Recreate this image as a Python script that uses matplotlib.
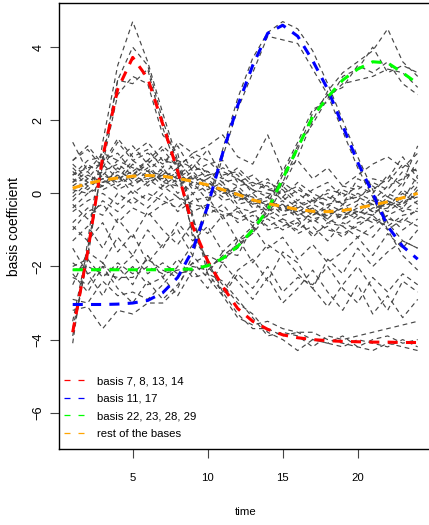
import numpy as np
import matplotlib
matplotlib.use("Agg")
import matplotlib.pyplot as plt
from matplotlib.lines import Line2D

#-------data------
time = list(range(1, 25))

red_mean = [-3.8, -1.6, 1.0, 2.85, 3.72, 3.15, 1.9, 0.6, -0.9, -1.85, -2.55, -3.15,
            -3.5, -3.72, -3.87, -3.95, -4.0, -4.03, -4.05, -4.06, -4.07, -4.07, -4.08, -4.08]
blue_mean = [-3.04, -3.04, -3.04, -3.03, -3.0, -2.93, -2.72, -2.3, -1.55, -0.35, 1.1, 2.4,
             3.5, 4.38, 4.6, 4.3, 3.63, 2.85, 1.85, 0.85, 0.0, -0.9, -1.45, -1.8]
green_mean = [-2.09, -2.09, -2.09, -2.09, -2.09, -2.09, -2.09, -2.08, -2.07, -1.98, -1.78, -1.45,
              -1.0, -0.45, 0.4, 1.25, 2.1, 2.63, 3.1, 3.4, 3.6, 3.57, 3.3, 3.0]
orange_mean = [0.14, 0.27, 0.36, 0.42, 0.47, 0.49, 0.47, 0.41, 0.33, 0.23, 0.10, -0.03,
               -0.18, -0.28, -0.36, -0.44, -0.49, -0.50, -0.47, -0.40, -0.32, -0.23, -0.12, 0.00]

red_lines = [
    [-4.1, -1.3, 1.4, 3.5, 4.7, 3.6, 2.2, 0.9, -0.7, -2.0, -2.5, -3.0, -3.3, -3.8, -4.0, -4.3, -4.0, -4.1, -3.9, -4.2, -4.0, -3.9, -4.1, -4.0],
    [-3.7, -1.8, 1.0, 3.1, 4.0, 3.5, 2.0, 0.8, -1.2, -1.8, -2.8, -3.4, -3.6, -3.5, -3.7, -3.8, -4.0, -4.1, -4.2, -4.0, -4.1, -4.2, -4.0, -4.2],
    [-3.5, -1.5, 0.8, 2.7, 3.2, 3.0, 1.6, 1.1, -0.6, -2.2, -2.4, -2.9, -3.4, -3.9, -3.8, -3.9, -4.2, -3.9, -4.0, -3.9, -3.8, -3.7, -3.6, -3.5],
    [-3.9, -1.7, 0.9, 3.1, 3.0, 3.4, 1.8, 0.6, -1.1, -1.8, -2.7, -3.3, -3.7, -3.7, -3.9, -3.8, -3.8, -4.0, -4.1, -4.2, -4.3, -4.1, -4.2, -4.3],
]
blue_lines = [
    [-2.9, -3.0, -2.4, -2.8, -2.7, -2.9, -2.5, -2.0, -1.4, -0.3, 1.2, 2.6, 3.7, 4.4, 4.7, 4.5, 3.9, 3.0, 2.0, 1.0, 0.1, -0.8, -1.3, -1.5],
    [-3.2, -3.1, -3.7, -3.2, -3.3, -3.0, -3.0, -2.6, -1.7, -0.4, 1.0, 2.3, 3.3, 4.3, 4.2, 4.1, 3.4, 2.7, 1.7, 0.7, -0.1, -1.0, -1.7, -2.1],
]
green_lines = [
    [-2.0, -1.8, -2.3, -1.9, -2.2, -1.8, -2.1, -2.3, -1.9, -1.7, -1.9, -1.3, -1.1, -0.6, 0.2, 1.0, 2.0, 2.8, 3.3, 3.6, 3.9, 4.5, 3.6, 3.2],
    [-2.3, -2.5, -1.9, -2.4, -2.0, -2.5, -2.3, -1.8, -2.3, -2.2, -1.6, -1.7, -0.9, -0.3, 0.6, 1.4, 2.3, 2.5, 3.2, 3.4, 4.0, 3.3, 3.5, 3.3],
    [-1.9, -2.2, -2.0, -2.1, -1.7, -2.2, -1.9, -2.2, -2.1, -2.0, -1.8, -1.5, -1.0, -0.5, 0.3, 1.2, 2.2, 2.7, 2.9, 3.5, 3.3, 3.6, 3.0, 2.7],
    [-2.1, -2.0, -2.2, -2.3, -2.3, -2.0, -2.2, -2.1, -2.0, -2.1, -1.7, -1.4, -1.1, -0.4, 0.5, 1.3, 1.9, 2.6, 3.0, 3.1, 3.2, 3.4, 3.3, 2.9],
]
rest_lines = [
    [1.4, 0.6, 1.1, 0.9, 1.3, 0.8, 1.2, 0.7, 1.1, 0.9, 0.5, 0.6, 0.2, 0.4, -0.1, 0.3, 0.0, -0.2, 0.2, 0.1, 0.4, 0.3, 0.8, 0.6],
    [0.9, 1.2, 0.7, 1.4, 0.9, 1.1, 0.8, 1.3, 0.6, 0.8, 0.9, 0.3, 0.5, 0.1, 0.2, -0.2, 0.1, 0.3, -0.1, 0.2, 0.0, 0.5, 0.2, 0.9],
    [0.5, 0.9, 1.0, 0.6, 1.1, 1.4, 0.9, 0.8, 1.0, 0.5, 0.6, 0.4, 0.1, -0.1, 0.3, 0.0, -0.3, 0.1, 0.0, -0.2, 0.3, 0.1, 0.6, 0.3],
    [0.8, 0.4, 0.9, 1.1, 0.6, 0.9, 1.3, 0.9, 0.7, 1.2, 0.4, 0.2, 0.3, 0.2, -0.2, 0.1, -0.1, -0.4, 0.1, -0.1, 0.1, 0.4, 1.0, 0.4],
    [0.3, 0.8, 0.5, 0.9, 0.7, 0.6, 1.0, 0.5, 0.8, 0.4, 0.7, 0.5, 0.0, 0.3, 0.1, -0.3, -0.2, 0.0, -0.3, 0.4, 0.2, -0.1, 0.3, 1.3],
    [0.2, 0.5, 0.3, 0.6, 0.4, 0.7, 0.3, 0.6, 0.2, 0.4, 0.0, 0.1, -0.3, -0.1, -0.5, -0.3, -0.6, -0.4, -0.7, -0.3, -0.5, -0.1, -0.3, 0.2],
    [-0.1, 0.3, 0.6, 0.2, 0.5, 0.3, 0.7, 0.2, 0.5, 0.1, 0.3, -0.2, 0.0, -0.4, -0.2, -0.6, -0.4, -0.7, -0.3, -0.6, -0.2, -0.4, 0.1, -0.2],
    [0.4, 0.1, 0.5, 0.3, 0.8, 0.4, 0.5, 0.3, 0.6, 0.2, -0.1, 0.2, -0.2, -0.3, -0.4, -0.2, -0.5, -0.6, -0.4, -0.5, -0.6, -0.2, -0.4, 0.1],
    [0.0, 0.4, 0.2, 0.7, 0.3, 0.6, 0.2, 0.5, 0.3, 0.5, 0.2, -0.1, -0.3, -0.2, -0.6, -0.5, -0.3, -0.5, -0.6, -0.4, -0.3, -0.5, -0.2, -0.1],
    [0.6, 0.2, 0.4, 0.5, 0.2, 0.5, 0.4, 0.7, 0.1, 0.3, 0.1, 0.0, -0.1, -0.5, -0.3, -0.7, -0.6, -0.3, -0.5, -0.7, -0.4, -0.3, 0.0, -0.3],
    [0.1, 0.0, 0.3, 0.4, 0.6, 0.2, 0.6, 0.4, 0.4, 0.0, 0.2, -0.3, -0.2, -0.1, -0.5, -0.4, -0.7, -0.6, -0.4, -0.2, -0.5, -0.4, -0.1, 0.3],
    [0.3, 0.6, 0.1, 0.3, 0.5, 0.8, 0.3, 0.2, 0.5, 0.3, 0.0, 0.1, -0.4, -0.3, -0.3, -0.6, -0.4, -0.8, -0.6, -0.5, -0.1, -0.3, -0.3, 0.0],
    [-0.2, 0.2, 0.4, 0.1, 0.3, 0.4, 0.1, 0.4, 0.0, 0.2, -0.2, -0.1, -0.2, -0.6, -0.4, -0.5, -0.8, -0.5, -0.7, -0.5, -0.6, -0.2, -0.5, -0.2],
    [0.5, 0.7, 0.8, 0.4, 0.9, 0.6, 0.5, 0.9, 0.4, 0.6, 0.3, 0.4, 0.1, 0.0, -0.1, -0.4, -0.2, -0.3, -0.2, -0.1, -0.3, 0.0, -0.2, 0.5],
    [-0.4, 0.0, 0.2, 0.5, 0.0, 0.3, 0.5, 0.0, 0.3, -0.2, 0.1, -0.4, -0.5, -0.4, -0.7, -0.9, -0.5, -0.7, -0.9, -0.6, -0.8, -0.6, -0.4, -0.5],
    [0.7, 0.3, 0.6, 0.8, 0.5, 0.9, 0.6, 0.4, 0.7, 0.6, 0.4, 0.7, 0.3, 0.1, 0.0, 0.2, -0.2, -0.1, -0.3, 0.0, -0.2, 0.2, 0.4, 0.7],
    [-0.5, -0.2, 0.0, -0.3, 0.1, -0.2, 0.2, -0.1, -0.3, -0.4, -0.6, -0.5, -0.8, -0.7, -1.0, -0.8, -1.1, -0.9, -1.2, -0.8, -0.7, -0.9, -0.6, -0.5],
    [-0.8, -0.4, -0.6, 0.0, -0.3, 0.0, -0.2, -0.4, 0.0, -0.6, -0.3, -0.8, -0.6, -0.9, -0.7, -1.1, -0.9, -1.3, -0.8, -1.0, -1.2, -0.7, -0.8, -0.4],
    [-0.3, -0.7, -0.2, -0.5, -0.1, -0.4, 0.0, -0.5, -0.2, -0.1, -0.7, -0.4, -0.9, -0.6, -0.8, -1.0, -0.7, -1.0, -1.1, -0.9, -0.6, -1.0, -0.7, -0.9],
    [-1.0, -0.5, -0.3, -0.8, -0.4, -0.6, -0.3, -0.1, -0.5, -0.3, -0.5, -0.7, -0.5, -1.0, -0.9, -0.7, -1.2, -0.8, -0.9, -1.2, -0.9, -0.6, -1.0, -0.7],
    [-2.5, -1.6, -1.9, -1.2, -1.7, -1.0, -1.5, -0.8, -1.3, -0.9, -1.6, -1.2, -1.9, -1.4, -1.7, -2.2, -2.6, -1.8, -2.2, -1.5, -2.0, -1.6, -1.3, -1.5],
    [-1.5, -2.2, -2.8, -2.0, -2.5, -1.7, -2.3, -2.8, -2.1, -2.6, -1.9, -2.4, -2.9, -2.3, -3.0, -2.6, -2.1, -2.7, -3.2, -2.5, -3.3, -2.8, -3.4, -2.9],
    [-0.9, -1.3, -0.8, -1.6, -1.1, -1.9, -1.4, -1.0, -1.7, -2.2, -2.7, -2.1, -1.8, -2.4, -1.6, -1.9, -2.6, -3.1, -2.5, -2.0, -2.6, -3.2, -2.4, -2.7],
    [0.9, 1.3, 0.8, 1.5, 1.0, 1.2, 0.7, 1.4, 1.1, 1.3, 1.6, 1.0, 0.8, 1.6, 0.6, 0.9, 0.4, 0.7, 0.2, 0.5, 0.8, 1.0, 0.7, 1.1],
    [-1.3, -0.9, -1.5, -0.7, -1.2, -0.5, -1.0, -1.4, -0.8, -1.1, -0.6, -1.3, -0.9, -1.5, -1.2, -1.8, -1.4, -1.9, -1.6, -1.2, -1.7, -1.1, -1.5, -1.0],
    [-2.2, -2.7, -2.0, -2.6, -3.0, -2.4, -2.9, -2.5, -1.9, -2.3, -2.8, -2.2, -2.6, -2.0, -2.7, -2.3, -2.5, -2.0, -2.6, -3.0, -2.3, -2.7, -2.2, -2.5],
]

labels = ["basis 7, 8, 13, 14", "basis 11, 17", "basis 22, 23, 28, 29", "rest of the bases"]
colors = ["#FF0000", "#0000FF", "#00FF00", "#FFA500"]

#-------figure------
W, H = 429, 525
fig = plt.figure(figsize=(W / 100, H / 100), dpi=100)
ax = fig.add_axes([58.9 / W, 1 - 448.5 / H, 372.6 / W, 445.2 / H])
ax.set_xlim(0.08, 24.92)
ax.set_ylim(-6.98, 5.2)

font = ["Liberation Sans", "DejaVu Sans"]

# gray trajectories
for grp in (red_lines, blue_lines, green_lines, rest_lines):
    for vals in grp:
        ax.plot(time, vals, color="#474747", lw=0.85, dashes=(4.0, 3.2))

# group means
for vals, c in zip((red_mean, blue_mean, green_mean, orange_mean), colors):
    ax.plot(time, vals, color=c, lw=2.2, dashes=(3.3, 2.7))

ax.set_xticks([5, 10, 15, 20])
ax.set_yticks([-6, -4, -2, 0, 2, 4])
ax.tick_params(axis="both", length=6.5, width=0.8, color="#444444")
ax.tick_params(axis="x", pad=11)
ax.tick_params(axis="y", pad=4, labelrotation=90)
for lab in ax.get_xticklabels():
    lab.set_family(font)
    lab.set_fontsize(8.2)
for lab in ax.get_yticklabels():
    lab.set_family(font)
    lab.set_fontsize(9.2)
    lab.set_verticalalignment("center")
for s in ax.spines.values():
    s.set_linewidth(1.0)

fig.text(245.2 / W, 1 - 512 / H, "time", ha="center", va="center",
         family=font, fontsize=8.2)
fig.text(13.8 / W, 1 - 226 / H, "basis coefficient", ha="center", va="center",
         rotation=90, family=font, fontsize=10)

handles = [Line2D([], [], color=c, lw=0.9, dashes=(4.8, 6.4)) for c in colors]
ax.legend(handles, labels, loc="upper left", bbox_to_anchor=(64.3 / W, 1 - 376 / H),
          bbox_transform=fig.transFigure, frameon=False, borderpad=0, borderaxespad=0,
          handlelength=1.75, handletextpad=1.1, labelspacing=0.66,
          prop={"family": font, "size": 8.2})

fig.savefig("out.png", dpi=100)
